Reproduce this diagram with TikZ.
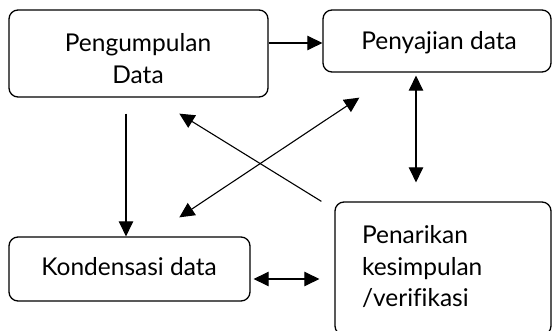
\documentclass[tikz,border=0pt]{standalone}
\usepackage{fontspec}
\setmainfont[Ligatures=NoCommon]{Lato}
\usetikzlibrary{arrows.meta,calc}
\begin{document}
\begin{tikzpicture}[x=1pt,y=-1pt,
  box/.style={draw, line width=1.3pt, rounded corners=9pt, inner sep=0pt},
  txt/.style={inner sep=0pt, font=\fontsize{24.5}{31.5}\selectfont},
  arr/.style={line width=1.1pt, -{Triangle[length=15pt,width=14.5pt]}},
  darr/.style={line width=1.1pt, {Triangle[length=15pt,width=14.5pt]}-{Triangle[length=15pt,width=14.5pt]}}]
\useasboundingbox (0,0) rectangle (552,331);
\node[box, minimum width=259pt, minimum height=87pt] (b1) at (138.5,53.5) {};
\node[txt, align=center] (t1) at (138,58.5) {Pengumpulan\\Data};
\node[box, minimum width=228pt, minimum height=62pt] (b2) at (437,41) {};
\node[txt] (t2) at (439,43) {Penyajian data};
\node[box, minimum width=241pt, minimum height=64pt] (b3) at (129.5,269) {};
\node[txt] (t3) at (129,267) {Kondensasi data};
\node[box, minimum width=216pt, minimum height=133pt] (b4) at (443,268.5) {};
\node[txt, align=left, text width=162pt] (t4) at (443,267) {Penarikan\\kesimpulan\\/verifikasi};
\draw[arr] (b1.east |- 0,43) -- (b2.west |- 0,43);
\draw[arr] ($(b1.south -| 126,0)+(0,16)$) -- (b3.north -| 126,0);
\draw[darr] ($(b2.south -| 416,0)+(0,3)$) -- ($(b4.north -| 416,0)+(0,-19)$);
\draw[darr] ($(b3.east |- 0,279)+(3,0)$) -- ($(b4.west |- 0,279)+(-15,0)$);
\draw[arr] ($(b4.north west)+(-13,0)$) -- ($(b1.south west)+(171,16)$);
\draw[darr] ($(b3.north west)+(171,-19)$) -- ($(b2.south west)+(37,25)$);
\end{tikzpicture}
\end{document}
